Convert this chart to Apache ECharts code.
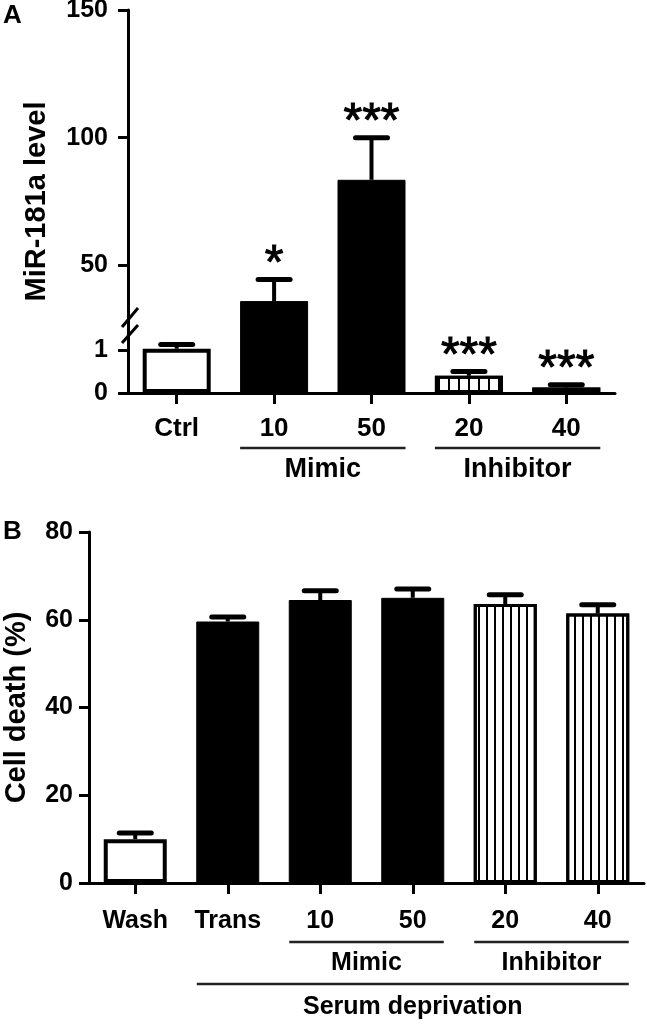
<!DOCTYPE html>
<html>
<head>
<meta charset="utf-8">
<script src="https://cdn.jsdelivr.net/npm/echarts@6/dist/echarts.min.js"></script>
<style>
html, body { margin: 0; padding: 0; background: #fff; }
#chart { width: 647px; height: 1025px; }
</style>
</head>
<body>
<div id="chart"></div>
<script>
// panel A: miR-181a level (broken y axis)
const catsA = ['Ctrl', '10', '50', '20', '40'];
const groupA = ['ctrl', 'mimic', 'mimic', 'inhibitor', 'inhibitor'];
const mirMean = [1.03, 36, 83.5, 0.4, 0.13];
const mirErr = [0.1, 8.5, 16.5, 0.1, 0.06];
const mirSig = ['', '*', '***', '***', '***'];
const ticksAHigh = [0, 50, 100, 150];
const ticksALow = [0, 1];
const bracketsA = [['Mimic', 1, 2], ['Inhibitor', 3, 4]];

// panel B: cell death
const catsB = ['Wash', 'Trans', '10', '50', '20', '40'];
const groupB = ['ctrl', 'mimic', 'mimic', 'mimic', 'inhibitor', 'inhibitor'];
const deathMean = [10, 59.6, 64.5, 65, 63.6, 61.4];
const deathErr = [1.4, 1, 2.1, 2, 2.1, 2];
const bracketsB = [['Mimic', 2, 3], ['Inhibitor', 4, 5]];
const outerB = [['Serum deprivation', 1, 5]];

const BREAK = 1.35; // top of the lower segment of panel A's axis
const FONT = '"Liberation Sans", Arial, sans-serif';

function fill(kind, gap) {
  if (kind === 'ctrl') return { color: '#fff', borderColor: '#000', borderWidth: 4 };
  if (kind === 'mimic') return { color: '#000', borderColor: '#000', borderWidth: 1 };
  return {
    color: '#fff', borderColor: '#000', borderWidth: 3,
    decal: { symbol: 'rect', symbolSize: 1, color: '#000', dashArrayX: [1, 0], dashArrayY: [2, gap], rotation: Math.PI / 2 },
  };
}

function barData(values, groups, gap, keep) {
  return values.map((v, i) => keep(v) ? { value: v, itemStyle: fill(groups[i], gap) } : '-');
}

function errData(means, errs, keep) {
  return means.map((m, i) => [i, m, errs[i]]).filter(d => keep(d[1]));
}

function errorBar(sigs) {
  return function (params, api) {
    const i = api.value(0);
    const p0 = api.coord([i, api.value(1)]);
    const p1 = api.coord([i, api.value(1) + api.value(2)]);
    const children = [
      { type: 'line', shape: { x1: p0[0], y1: p0[1], x2: p1[0], y2: p1[1] }, style: { stroke: '#000', lineWidth: 4 } },
      { type: 'line', shape: { x1: p1[0] - 16, y1: p1[1], x2: p1[0] + 16, y2: p1[1] }, style: { stroke: '#000', lineWidth: 5, lineCap: 'round' } },
    ];
    if (sigs && sigs[i]) {
      children.push({
        type: 'text',
        style: { text: sigs[i], x: p1[0], y: p1[1] + 9, font: '48px ' + FONT, fill: '#000', stroke: '#000', lineWidth: 1, align: 'center', verticalAlign: 'bottom' },
      });
    }
    return { type: 'group', children };
  };
}

const axisLine = { show: true, lineStyle: { color: '#000', width: 3 } };
const yTick = { show: true, length: 10, lineStyle: { color: '#000', width: 3 } };
const xTick = { show: true, length: 11, alignWithLabel: true, lineStyle: { color: '#000', width: 3 } };
const label = (size, margin) => ({ color: '#000', fontWeight: 'bold', fontFamily: FONT, fontSize: size, margin });
const nameStyle = { color: '#000', fontWeight: 'bold', fontFamily: FONT, fontSize: 29 };

const chart = echarts.init(document.getElementById('chart'), null, { renderer: 'canvas' });

chart.setOption({
  backgroundColor: '#fff',
  animation: false,
  grid: [
    { left: 128, right: 32, top: 10, bottom: 632, outerBoundsMode: 'none' },
    { left: 128, right: 32, top: 335, bottom: 632, outerBoundsMode: 'none' },
    { left: 89, right: 3, top: 532, bottom: 142, outerBoundsMode: 'none' },
  ],
  xAxis: [
    { gridIndex: 0, type: 'category', data: catsA, show: false },
    { gridIndex: 1, type: 'category', data: catsA, axisLine, axisTick: xTick, axisLabel: label(26, 23) },
    { gridIndex: 2, type: 'category', data: catsB, axisLine, axisTick: xTick, axisLabel: label(25, 26) },
  ],
  yAxis: [
    {
      gridIndex: 0, type: 'value', min: 0, max: 150, splitLine: { show: false },
      axisLine, axisTick: { ...yTick, customValues: ticksAHigh },
      axisLabel: { ...label(25, 20), customValues: ticksAHigh.filter(v => v > 0) },
      name: 'MiR-181a level', nameLocation: 'middle', nameGap: 77, nameTextStyle: nameStyle,
    },
    {
      gridIndex: 1, type: 'value', min: 0, max: BREAK, splitLine: { show: false },
      axisLine, axisTick: { ...yTick, customValues: ticksALow },
      axisLabel: { ...label(25, 20), customValues: ticksALow },
    },
    {
      gridIndex: 2, type: 'value', min: 0, max: 80, interval: 20, splitLine: { show: false },
      axisLine, axisTick: yTick, axisLabel: label(25, 16),
      name: 'Cell death (%)', nameLocation: 'middle', nameGap: 58, nameTextStyle: nameStyle,
    },
  ],
  series: [
    { type: 'bar', xAxisIndex: 0, yAxisIndex: 0, barWidth: 68, data: barData(mirMean, groupA, 8, v => v > BREAK) },
    { type: 'bar', xAxisIndex: 1, yAxisIndex: 1, barWidth: 68, data: barData(mirMean, groupA, 8, v => v <= BREAK) },
    { type: 'custom', xAxisIndex: 0, yAxisIndex: 0, z: 5, renderItem: errorBar(mirSig), data: errData(mirMean, mirErr, v => v > BREAK) },
    { type: 'custom', xAxisIndex: 1, yAxisIndex: 1, z: 5, renderItem: errorBar(mirSig), data: errData(mirMean, mirErr, v => v <= BREAK) },
    { type: 'bar', xAxisIndex: 2, yAxisIndex: 2, barWidth: 63, data: barData(deathMean, groupB, 6, () => true) },
    { type: 'custom', xAxisIndex: 2, yAxisIndex: 2, z: 5, renderItem: errorBar(null), data: errData(deathMean, deathErr, () => true) },
  ],
});

// group brackets, panel letters and the axis break, placed from the axes
function brackets(list, cats, xi, yi, lineOff, textOff, half, size) {
  const base = chart.convertToPixel({ yAxisIndex: yi }, 0);
  return list.flatMap(([name, a, b]) => {
    const x1 = chart.convertToPixel({ xAxisIndex: xi }, cats[a]) - half;
    const x2 = chart.convertToPixel({ xAxisIndex: xi }, cats[b]) + half;
    return [
      { type: 'line', shape: { x1, y1: base + lineOff, x2, y2: base + lineOff }, style: { stroke: '#222', lineWidth: 2.5 } },
      { type: 'text', style: { text: name, x: (x1 + x2) / 2, y: base + textOff, align: 'center', verticalAlign: 'middle', font: 'bold ' + size + 'px ' + FONT, fill: '#000' } },
    ];
  });
}

const axisX = chart.convertToPixel({ xAxisIndex: 1 }, catsA[0]) - chart.getModel().getComponent('xAxis', 1).axis.getBandWidth() / 2;
const breakY = chart.convertToPixel({ yAxisIndex: 1 }, BREAK);

chart.setOption({
  graphic: [
    { type: 'text', style: { text: 'A', x: 3, y: 3, font: 'bold 26px ' + FONT, fill: '#000' } },
    { type: 'text', style: { text: 'B', x: 3, y: 519, font: 'bold 26px ' + FONT, fill: '#000' } },
    { type: 'rect', shape: { x: axisX - 3, y: breakY - 16, width: 6, height: 16 }, style: { fill: '#fff' } },
    { type: 'line', shape: { x1: axisX - 6, y1: breakY - 8, x2: axisX + 10, y2: breakY - 27 }, style: { stroke: '#000', lineWidth: 3 } },
    { type: 'line', shape: { x1: axisX - 6, y1: breakY + 8, x2: axisX + 10, y2: breakY - 10 }, style: { stroke: '#000', lineWidth: 3 } },
    ...brackets(bracketsA, catsA, 1, 1, 55, 77, 34, 27),
    ...brackets(bracketsB, catsB, 2, 2, 59, 80, 31, 25),
    ...brackets(outerB, catsB, 2, 2, 101, 124, 31, 25),
  ],
});
</script>
</body>
</html>
